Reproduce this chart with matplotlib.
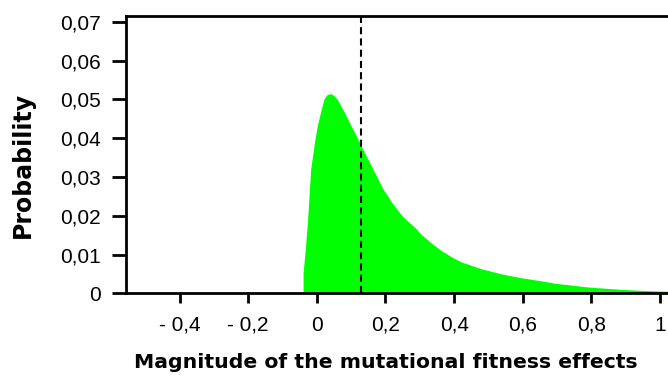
import matplotlib.pyplot as plt

# Distribution of mutational fitness effects
effect = [-0.040, -0.040, -0.033, -0.027, -0.018, -0.006, 0.002, 0.012, 0.021,
          0.030, 0.041, 0.050, 0.060, 0.080, 0.099, 0.119, 0.129, 0.163, 0.192,
          0.221, 0.251, 0.289, 0.304, 0.333, 0.363, 0.392, 0.421, 0.480, 0.538,
          0.596, 0.655, 0.693, 0.792, 0.889, 0.985, 1.03]
prob = [0.0, 0.0053, 0.0120, 0.0189, 0.0320, 0.0395, 0.0435, 0.0472, 0.0502,
        0.0513, 0.0515, 0.0510, 0.0500, 0.0467, 0.0433, 0.0399, 0.0380, 0.0321, 0.0270,
        0.0231, 0.0197, 0.0167, 0.0152, 0.0130, 0.0110, 0.0094, 0.0081, 0.0063, 0.0050,
        0.0040, 0.0032, 0.0026, 0.0016, 0.0010, 0.0006, 0.0005]
mean_effect = 0.129

x_ticks = [-0.4, -0.2, 0, 0.2, 0.4, 0.6, 0.8, 1]
x_labels = ['- 0,4', '- 0,2', '0', '0,2', '0,4', '0,6', '0,8', '1']
y_ticks = [0, 0.01, 0.02, 0.03, 0.04, 0.05, 0.06, 0.07]
y_labels = ['0', '0,01', '0,02', '0,03', '0,04', '0,05', '0,06', '0,07']

fig = plt.figure(figsize=(6.68, 3.76), dpi=100)
ax = fig.add_axes([0.1886, 0.22, 0.815, 0.737])

ax.fill_between(effect, prob, 0, color='#00ff00', linewidth=0)
ax.axvline(mean_effect, color='black', linestyle=(0, (3.4, 2)), linewidth=1.5)

ax.set_xlim(-0.556, 1.03)
ax.set_ylim(0, 0.0715)

ax.set_xticks(x_ticks)
ax.set_xticklabels(x_labels, fontfamily='Liberation Sans', fontsize=15)
ax.set_yticks(y_ticks)
ax.set_yticklabels(y_labels, fontfamily='Liberation Sans', fontsize=15)
ax.tick_params(axis='x', direction='out', length=7, width=2, pad=9)
ax.tick_params(axis='y', direction='out', length=10, width=2, pad=8)

for side in ['left', 'top', 'bottom']:
    ax.spines[side].set_linewidth(2)
ax.spines['right'].set_visible(False)

ax.set_xlabel('Magnitude of the mutational fitness effects', fontsize=14.7, fontweight='bold')
ax.set_ylabel('Probability', fontsize=17, fontweight='bold')
ax.xaxis.set_label_coords(0.478, -0.215)
ax.yaxis.set_label_coords(-0.167, 0.463)

fig.savefig('out.png', dpi=100)
